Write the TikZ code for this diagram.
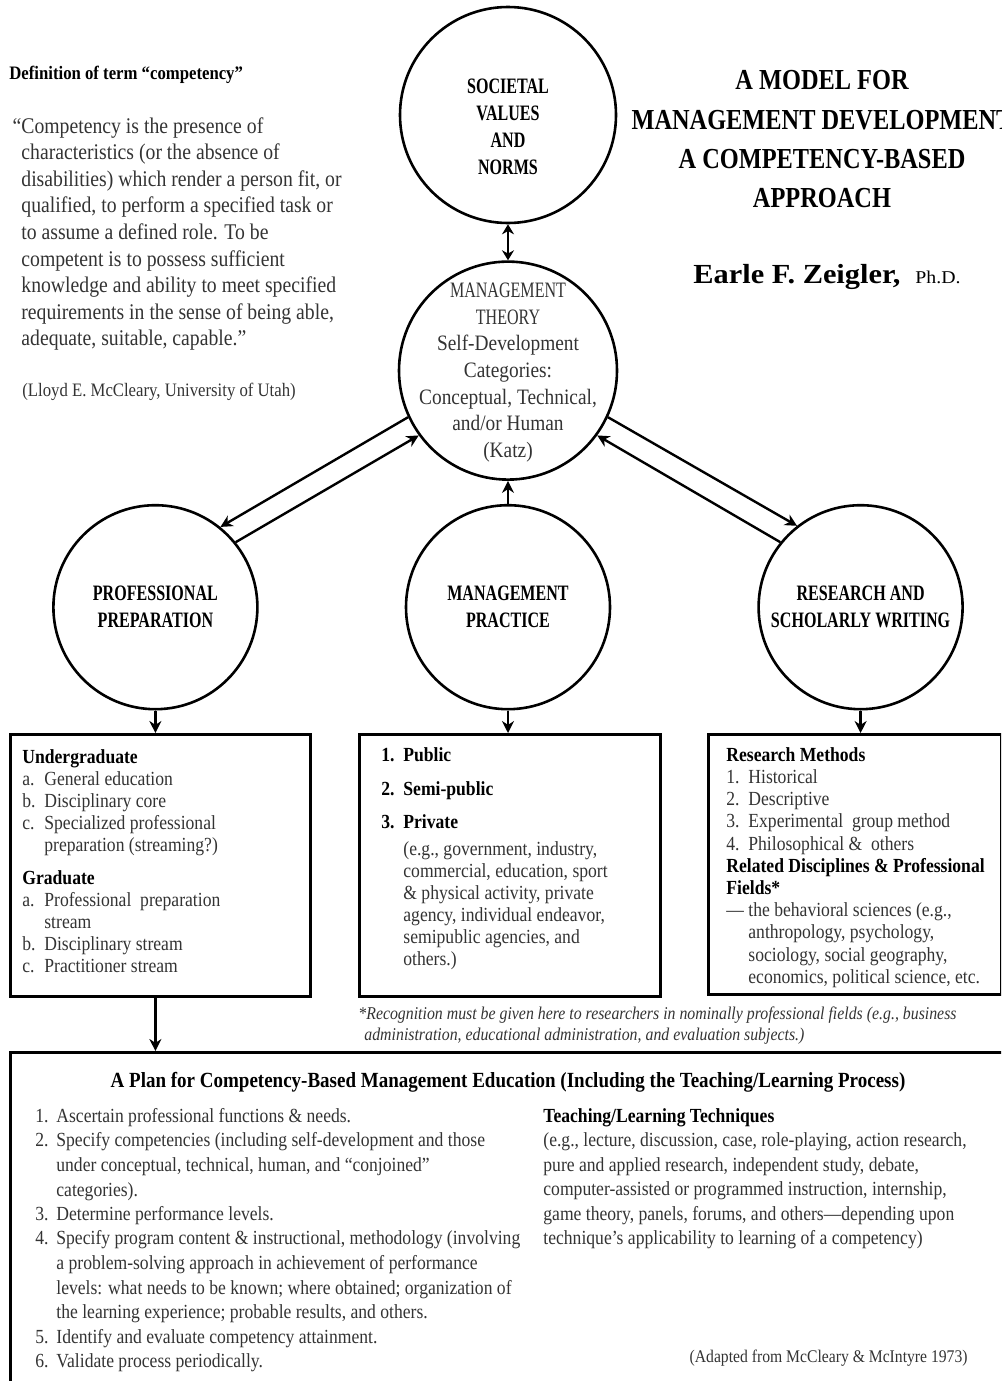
\documentclass[tikz,border=0pt]{standalone}
\usepackage{fontspec}
\setmainfont[FakeStretch=0.88]{Liberation Serif}
\newfontfamily\condfont[FakeStretch=0.73]{Liberation Serif}
\newfontfamily\titlefont[FakeStretch=0.84]{Liberation Serif}
\newfontfamily\namefont[FakeStretch=1.1]{Liberation Serif}
\usepackage{tikz}
\usetikzlibrary{arrows.meta,positioning}
\colorlet{bodytext}{black!80}
\newcommand{\itm}[2][11pt]{\makebox[#1][l]{#2}}
\newcommand{\cont}[1][11pt]{\hspace*{#1}}
\newcommand{\hd}[1]{{\color{black}\bfseries #1}}

\begin{document}
\begin{tikzpicture}[
		x=0.5pt, y=-0.5pt,
		circ/.style = {draw, circle, line width=1.3pt, inner sep=0pt, align=center},
		capt/.style = {align=center, inner sep=0pt, font=\condfont\bfseries\fontsize{11}{13.5}\selectfont},
		inner/.style = {align=center, inner sep=0pt, text=bodytext, font=\fontsize{11}{13.3}\selectfont},
		listbox/.style = {draw, line width=1.6pt, inner sep=0pt, anchor=north west},
		txt/.style = {inner sep=0pt, anchor=north west, align=left, text=bodytext},
		arrow/.style = {-{Stealth[length=6pt, width=6pt]}, line width=1.2pt},
		twoway/.style = {{Stealth[length=5pt, width=6pt]}-{Stealth[length=5pt, width=6pt]}, line width=1.2pt}
		]
		\useasboundingbox (0,0) rectangle (1001,1381);
		\clip (0,0) rectangle (1001,1381);
		
		\node[circ, minimum size=108pt, label={[capt, yshift=-6pt]center:{SOCIETAL\\VALUES\\AND\\NORMS}}] (soc) at (508,115) {};
		\node[circ, minimum size=109pt, below=18pt of soc,
			label={[inner, yshift=-1pt]center:{{\condfont MANAGEMENT}\\{\condfont THEORY}\\Self-Development\\Categories:\\Conceptual, Technical,\\and/or Human\\(Katz)}}] (thy) {};
		\node[circ, minimum size=102pt, below=11.5pt of thy, capt] (prac) {MANAGEMENT\\PRACTICE};
		\node[circ, minimum size=102pt, left=73pt of prac, capt] (prof) {PROFESSIONAL\\PREPARATION};
		\node[circ, minimum size=102pt, right=73pt of prac, capt] (res) {RESEARCH AND\\SCHOLARLY WRITING};
		
		\draw[twoway] (soc) -- (thy);
		\draw[arrow] (prac) -- (thy);
		\draw[arrow] (thy.205) -- (prof.51);
		\draw[arrow] (prof.39) -- (thy.216);
		\draw[arrow] (thy.335) -- (res.128);
		\draw[arrow] (res.141) -- (thy.324);
		
		\node[listbox, minimum width=150pt, minimum height=131pt] (ugbox) at (9,733) {};
		\node[listbox, minimum width=150.5pt, minimum height=131pt] (sectbox) at (358,733) {};
		\node[listbox, minimum width=146.5pt, minimum height=130pt] (resbox) at (707,733) {};
		\node[listbox, minimum width=500.5pt, minimum height=172pt] (plan) at (9,1051) {};
		
		\draw[arrow] (prof) -- (prof |- ugbox.north);
		\draw[arrow] (prac) -- (prac |- sectbox.north);
		\draw[arrow] (res) -- (res |- resbox.north);
		\draw[arrow] (ugbox.south -| prof) -- (plan.north -| prof);
		
		\node[txt, text=black, font=\bfseries\fontsize{9.5}{11}\selectfont] (defn) at (9,66) {Definition of term “competency”};
		\node[txt, font=\fontsize{11.2}{13.3}\selectfont] (quote) at (21,117)
			{\llap{“}Competency is the presence of\\ characteristics (or the absence of\\ disabilities) which render a person fit, or\\ qualified, to perform a specified task or\\ to assume a defined role. To be\\ competent is to possess sufficient\\ knowledge and ability to meet specified\\ requirements in the sense of being able,\\ adequate, suitable, capable.”};
		\node[txt, font=\fontsize{9.5}{11}\selectfont] (src) at (22,383) {(Lloyd E. McCleary, University of Utah)};
		
		\node[inner sep=0pt, anchor=north, align=center, font=\titlefont\bfseries\fontsize{14.5}{19.7}\selectfont] (title) at (822,70)
			{A MODEL FOR\\MANAGEMENT DEVELOPMENT\\A COMPETENCY-BASED\\APPROACH};
		\node[inner sep=0pt, anchor=base west] (author) at (693,283)
			{\namefont\bfseries\fontsize{13.8}{16}\selectfont Earle F. Zeigler,\ \ {\mdseries\fontsize{9}{11}\selectfont Ph.D.}};
		
		\node[txt, font=\fontsize{10}{11}\selectfont] (ugtext) at (22,749)
			{\hd{Undergraduate}\\ \itm{a.}General education\\ \itm{b.}Disciplinary core\\ \itm{c.}Specialized professional\\ \cont preparation (streaming?)\\[5.5pt]
			\hd{Graduate}\\ \itm{a.}Professional\ \ preparation\\ \cont stream\\ \itm{b.}Disciplinary stream\\ \itm{c.}Practitioner stream};
		\node[txt, font=\fontsize{10}{11}\selectfont] (sectors) at (381,747)
			{\hd{\itm{1.}Public}\\[6pt] \hd{\itm{2.}Semi-public}\\[5.5pt] \hd{\itm{3.}Private}\\[2.5pt] \cont(e.g., government, industry,\\ \cont commercial, education, sport\\
			\cont\& physical activity, private\\ \cont agency, individual endeavor,\\ \cont semipublic agencies, and\\ \cont others.)};
		\node[txt, font=\fontsize{10}{11.1}\selectfont] (methods) at (726,747)
			{\hd{Research Methods}\\ \itm{1.}Historical\\ \itm{2.}Descriptive\\ \itm{3.}Experimental\ \ group method\\ \itm{4.}Philosophical \&\ \ others\\
			\hd{Related Disciplines \& Professional}\\ \hd{Fields*}\\ \itm{---}the behavioral sciences (e.g.,\\ \cont anthropology, psychology,\\
			\cont sociology, social geography,\\ \cont economics, political science, etc.};
		\node[txt, font=\itshape\fontsize{9}{10.5}\selectfont] (note) at (358,1006)
			{*Recognition must be given here to researchers in nominally professional fields (e.g., business\\ \cont[3pt]administration, educational administration, and evaluation subjects.)};
		
		\node[inner sep=0pt, anchor=base, font=\bfseries\fontsize{10.8}{13}\selectfont] (plantitle) at (508,1087)
			{A Plan for Competency-Based Management Education (Including the Teaching/Learning Process)};
		\node[txt, font=\fontsize{10}{12.25}\selectfont] (steps) at (35,1108)
			{\itm[10.5pt]{1.}Ascertain professional functions \& needs.\\ \itm[10.5pt]{2.}Specify competencies (including self-development and those\\
			\cont[10.5pt]under conceptual, technical, human, and “conjoined”\\ \cont[10.5pt]categories).\\ \itm[10.5pt]{3.}Determine performance levels.\\
			\itm[10.5pt]{4.}Specify program content \& instructional, methodology (involving\\ \cont[10.5pt]a problem-solving approach in achievement of performance\\
			\cont[10.5pt]levels: what needs to be known; where obtained; organization of\\ \cont[10.5pt]the learning experience; probable results, and others.\\
			\itm[10.5pt]{5.}Identify and evaluate competency attainment.\\ \itm[10.5pt]{6.}Validate process periodically.};
		\node[txt, font=\fontsize{10}{12.25}\selectfont] (tech) at (543,1108)
			{\hd{Teaching/Learning Techniques}\\ (e.g., lecture, discussion, case, role-playing, action research,\\ pure and applied research, independent study, debate,\\
			computer-assisted or programmed instruction, internship,\\ game theory, panels, forums, and others---depending upon\\ technique's applicability to learning of a competency)};
		\node[inner sep=0pt, anchor=base east, text=bodytext, font=\fontsize{8.9}{11}\selectfont] (adapted) at (968,1362) {(Adapted from McCleary \& McIntyre 1973)};
	\end{tikzpicture}
\end{document}
